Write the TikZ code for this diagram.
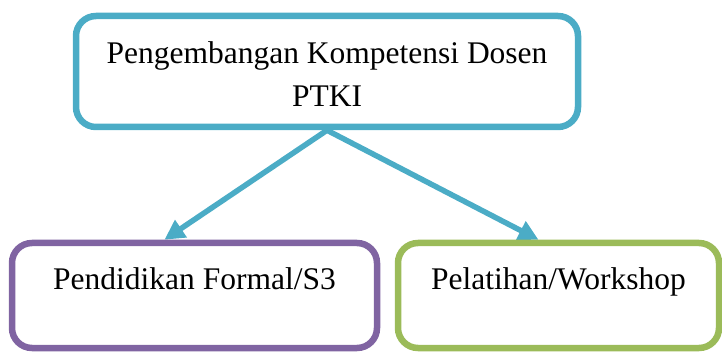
\documentclass[tikz,border=0pt]{standalone}
\usepackage{fontspec}
\setmainfont{Liberation Serif}
\usetikzlibrary{arrows.meta,calc,backgrounds}
\definecolor{accblue}{HTML}{4BACC6}
\definecolor{accpurple}{HTML}{8064A2}
\definecolor{accgreen}{HTML}{9BBB59}
\begin{document}
\begin{tikzpicture}[x=1pt,y=-1pt,
  box/.style={draw, line width=6.5pt, rounded corners=20pt, fill=none},
  lbl/.style={font=\fontsize{31.5}{43}\selectfont, inner sep=0pt, text=black},
  conn/.style={draw=accblue, line width=5.5pt, -{Triangle[length=20pt,width=20pt]}}]
\useasboundingbox (0,0) rectangle (722,352);
\node[box, draw=accblue, minimum width=502pt, minimum height=111pt] (top) at (327,71.5) {};
\node[box, draw=accpurple, minimum width=365pt, minimum height=105pt] (left) at (194.5,295.5) {};
\node[box, draw=accgreen, minimum width=321pt, minimum height=105pt] (right) at (558.5,295.5) {};
\node[lbl, align=center, anchor=north] (toptext) at (327,41.5) {Pengembangan Kompetensi Dosen\\PTKI};
\node[lbl, anchor=base] (lefttext) at (194.5,290) {Pendidikan Formal/S3};
\node[lbl, anchor=base] (righttext) at (558.5,290) {Pelatihan/Workshop};
\begin{pgfonlayer}{background}
\draw[conn] (top.south) -- ($(left.north west)!0.419!(left.north east)$);
\draw[conn] (top.south) -- ($(right.north west)!0.439!(right.north east)$);
\end{pgfonlayer}
\end{tikzpicture}
\end{document}
